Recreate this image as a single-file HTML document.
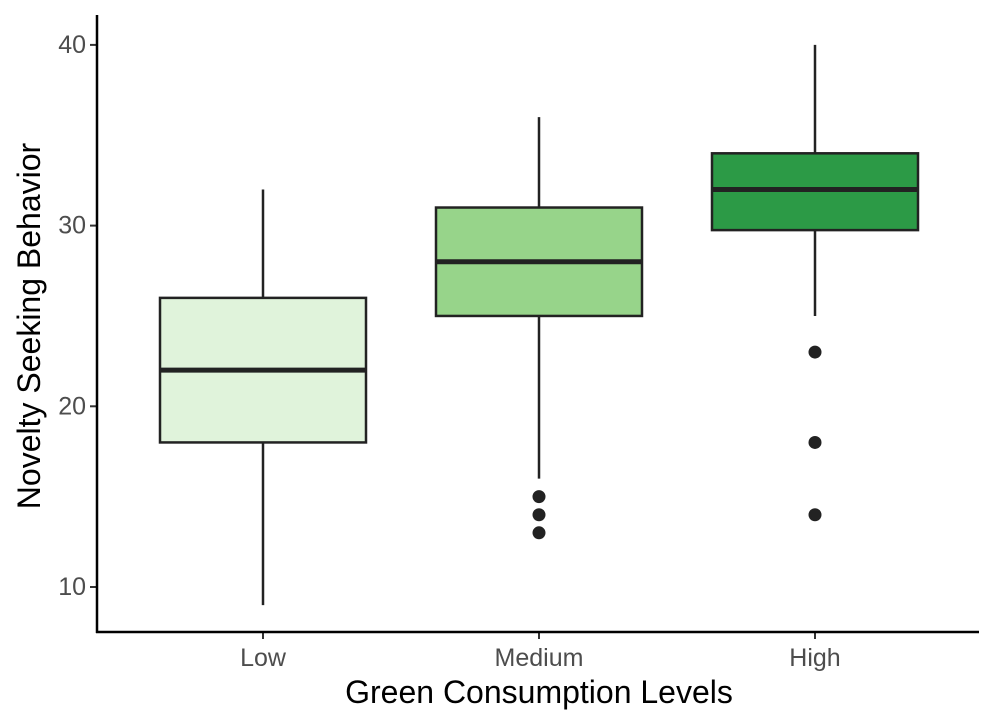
<!DOCTYPE html>
<html><head><meta charset="utf-8"><style>body{margin:0;background:#fff}svg{display:block;font-family:"Liberation Sans",sans-serif}</style></head>
<body>
<svg id="chart" width="995" height="725"></svg>
<script>
const categories=["Low","Medium","High"];
const whiskerLow=[9,16,25];
const q1=[18,25,29.75];
const medians=[22,28,32];
const q3=[26,31,34];
const whiskerHigh=[32,36,40];
const outliers=[[],[15,14,13],[23,18,14]];
const fills=["#e0f3db","#97d48a","#2c9a46"];
const yTicks=[10,20,30,40];
const svg=document.getElementById('chart');
const NS='http://www.w3.org/2000/svg';
const y=v=>587-(v-10)*18.07;
const x=i=>263+i*276;
const bw=206;
function mk(t,a,p){const e=document.createElementNS(NS,t);for(const k in a)e.setAttribute(k,a[k]);(p||svg).appendChild(e);return e;}
categories.forEach((c,i)=>{
 const g=mk('g',{});
 
 
 mk('line',{x1:x(i),x2:x(i),y1:y(whiskerLow[i]),y2:y(whiskerHigh[i]),stroke:'#222','stroke-width':2.5},g);
 mk('rect',{x:x(i)-bw/2,y:y(q3[i]),width:bw,height:y(q1[i])-y(q3[i]),fill:fills[i],stroke:'#222','stroke-width':2.5},g);
 mk('line',{x1:x(i)-bw/2,x2:x(i)+bw/2,y1:y(medians[i]),y2:y(medians[i]),stroke:'#222','stroke-width':5},g);
 outliers[i].forEach(o=>{const p=mk('circle',{cx:x(i),cy:y(o),r:6.5,fill:'#222'},g);
  
  });
 mk('line',{x1:x(i),x2:x(i),y1:632,y2:639,stroke:'#333','stroke-width':2});
 const t=mk('text',{x:x(i),y:666,'text-anchor':'middle','font-size':25,fill:'#4d4d4d'});t.textContent=c;
 
 
});
yTicks.forEach(v=>{
 mk('line',{x1:90,x2:97,y1:y(v),y2:y(v),stroke:'#333','stroke-width':2});
 const t=mk('text',{x:86,y:y(v)+8,'text-anchor':'end','font-size':25,fill:'#4d4d4d'});t.textContent=v;
 
 
});
const ya=mk('line',{x1:97,x2:97,y1:15,y2:633,stroke:'#000','stroke-width':2.5});


const xa=mk('line',{x1:96,x2:979,y1:632,y2:632,stroke:'#000','stroke-width':2.5});


const xt=mk('text',{x:539,y:703,'text-anchor':'middle','font-size':32,fill:'#000'});xt.textContent='Green Consumption Levels';


const yt=mk('text',{x:0,y:0,'text-anchor':'middle','font-size':32,fill:'#000',transform:'translate(40,326) rotate(-90)'});yt.textContent='Novelty Seeking Behavior';


</script>
</body></html>
